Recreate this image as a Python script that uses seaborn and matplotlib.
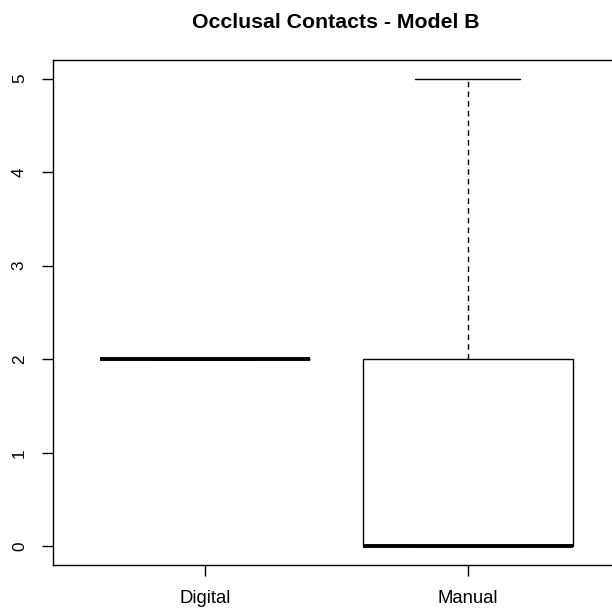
import seaborn as sns
import matplotlib.pyplot as plt
import pandas as pd

digital = [2, 2, 2, 2, 2, 2, 2, 2]
manual = [0, 0, 0, 0, 0, 2, 2, 5]
groups = ["Digital", "Manual"]
y_ticks = [0, 1, 2, 3, 4, 5]

df = pd.DataFrame({
    "group": ["Digital"] * len(digital) + ["Manual"] * len(manual),
    "contacts": digital + manual,
})

sns.set_style("ticks")
plt.rcParams["font.family"] = ["Liberation Sans", "DejaVu Sans"]

fig = plt.figure(figsize=(6.12, 6.11), dpi=100)
ax = fig.add_axes([53 / 612, 46 / 611, 567 / 612, 505 / 611])

sns.boxplot(
    data=df, x="group", y="contacts", order=groups, ax=ax,
    color="white", linecolor="black", linewidth=1.0, width=0.8,
    showfliers=False, whis=1.5,
    medianprops={"linewidth": 2.8, "solid_capstyle": "butt"},
    whiskerprops={"linestyle": (0, (4, 3))},
)

ax.set_xlim(-0.58, 1.58)
ax.set_ylim(-0.2, 5.2)
ax.set_yticks(y_ticks)
ax.set_yticklabels([str(t) for t in y_ticks], rotation=90, va="center")
ax.set_xlabel("")
ax.set_ylabel("")
for s in ax.spines.values():
    s.set_visible(True)
    s.set_linewidth(1.0)
    s.set_color("black")
ax.tick_params(axis="both", length=7.8, width=1.0, colors="black", labelsize=13.3)
ax.tick_params(axis="y", pad=11, labelsize=12.3)
ax.tick_params(axis="x", pad=10.5)

fig.text(336 / 612, 1 - 22 / 611, "Occlusal Contacts - Model B",
         ha="center", va="center", fontsize=15.3, fontweight="bold", color="black")

fig.savefig("out.png", dpi=100)
plt.close()
